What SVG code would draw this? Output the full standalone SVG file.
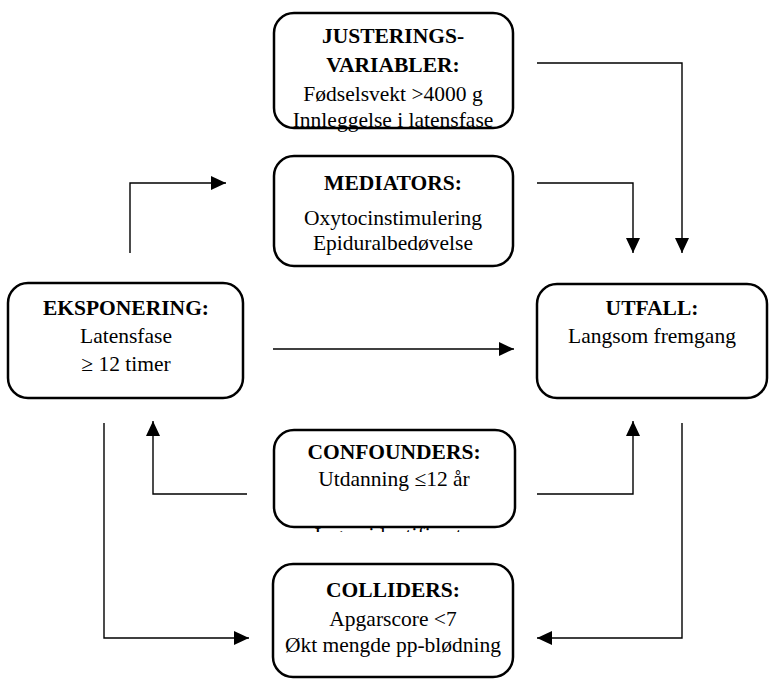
<svg xmlns="http://www.w3.org/2000/svg" width="770" height="680" viewBox="0 0 770 680">
<style>
.box{fill:#fff;stroke:#000;stroke-width:2.5}
text{font-family:"Liberation Serif","Times New Roman",serif;font-size:21.5px;fill:#000;text-anchor:middle}
.b{font-weight:bold}
.c{fill:none;stroke:#000;stroke-width:1.4}
</style>
<defs>
<marker id="ah" markerUnits="userSpaceOnUse" markerWidth="16" markerHeight="16" refX="15" refY="7" orient="auto">
<path d="M0,0 L15,7 L0,14 Z" fill="#000"/>
</marker>
<clipPath id="clipc"><rect x="270" y="527.5" width="250" height="4.5"/></clipPath>
</defs>
<g id="connectors">
<path class="c" d="M130,253 V183 H226" marker-end="url(#ah)"/>
<path class="c" d="M537,63 H682 V253" marker-end="url(#ah)"/>
<path class="c" d="M537,183 H633 V253" marker-end="url(#ah)"/>
<path class="c" d="M273,349 H514" marker-end="url(#ah)"/>
<path class="c" d="M247,494 H153 V421" marker-end="url(#ah)"/>
<path class="c" d="M537,494 H633 V421" marker-end="url(#ah)"/>
<path class="c" d="M104,423 V638 H249" marker-end="url(#ah)"/>
<path class="c" d="M682,423 V638 H537" marker-end="url(#ah)"/>
</g>
<g id="justering">
<rect class="box" x="274" y="13" width="239" height="115" rx="20"/>
<text class="b" x="393" y="43">JUSTERINGS-</text>
<text class="b" x="393" y="72">VARIABLER:</text>
<text x="393" y="101">Fødselsvekt &gt;4000 g</text>
<text x="393" y="127">Innleggelse i latensfase</text>
</g>
<g id="mediators">
<rect class="box" x="274" y="156" width="239" height="110" rx="20"/>
<text class="b" x="393" y="190">MEDIATORS:</text>
<text x="393" y="225">Oxytocinstimulering</text>
<text x="393" y="250">Epiduralbedøvelse</text>
</g>
<g id="eksponering">
<rect class="box" x="8" y="283" width="235" height="115" rx="20"/>
<text class="b" x="126" y="315">EKSPONERING:</text>
<text x="126" y="343">Latensfase</text>
<text x="126" y="371">≥ 12 timer</text>
</g>
<g id="utfall">
<rect class="box" x="537" y="284" width="230" height="114" rx="20"/>
<text class="b" x="652" y="315">UTFALL:</text>
<text x="652" y="343">Langsom fremgang</text>
</g>
<g id="confounders">
<rect class="box" x="274" y="430" width="241" height="97" rx="20"/>
<text class="b" x="394" y="459">CONFOUNDERS:</text>
<text x="394" y="486">Utdanning ≤12 år</text>
<text x="388" y="542" clip-path="url(#clipc)">Ingen identifisert</text>
</g>
<g id="colliders">
<rect class="box" x="273" y="564" width="240" height="113" rx="20"/>
<text class="b" x="393" y="597">COLLIDERS:</text>
<text x="393" y="626">Apgarscore &lt;7</text>
<text x="393" y="652">Økt mengde pp-blødning</text>
</g>
</svg>
